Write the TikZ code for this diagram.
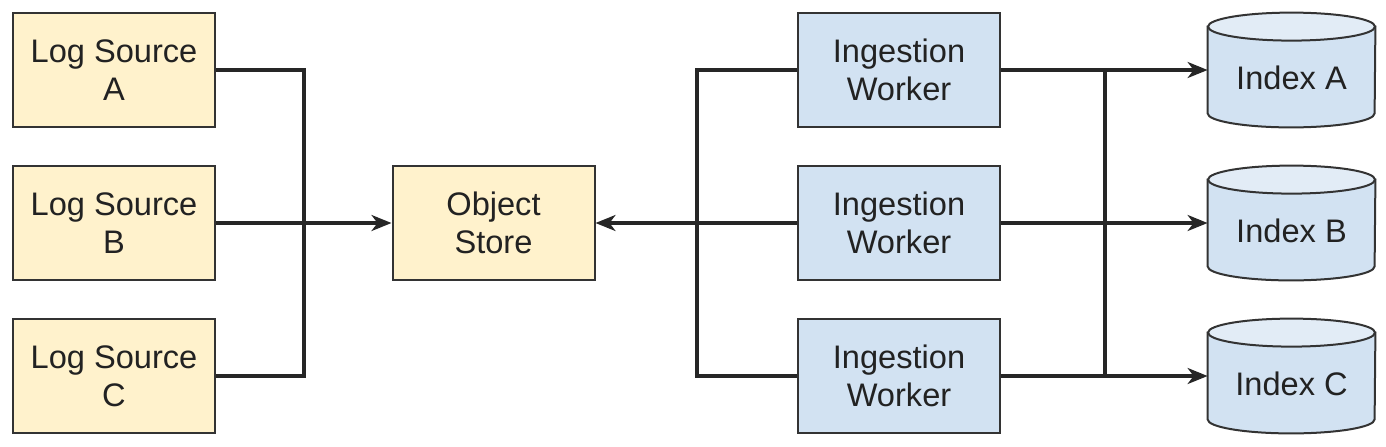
\documentclass[tikz,border=0pt]{standalone}
\usepackage{fontspec}
\setmainfont{Liberation Sans}
\usetikzlibrary{arrows.meta}
\definecolor{srcfill}{HTML}{FFF2CC}
\definecolor{wfill}{HTML}{D2E2F2}
\definecolor{topfill}{HTML}{E2ECF6}
\definecolor{edge}{HTML}{333333}
\definecolor{txt}{HTML}{222222}
\begin{document}
\begin{tikzpicture}[x=0.5pt,y=-0.5pt,
  box/.style={draw=edge, line width=1pt, minimum width=101pt, minimum height=57pt,
    inner sep=0pt, align=center, text=txt, font=\fontsize{16.3}{19}\selectfont},
  srcbox/.style={box, fill=srcfill},
  wbox/.style={box, fill=wfill},
  cylbox/.style={minimum width=83.5pt, minimum height=57pt, inner sep=0pt},
  conn/.style={draw=black!85, line width=1.6pt},
  arr/.style={conn, -{Stealth[length=10pt,width=8pt,inset=3pt]}},
  cylline/.style={draw=edge, line width=1pt}
]
\useasboundingbox (0,0) rectangle (1386,446);

% sources
\node[srcbox] (sA) at (114,70) {Log Source\\A};
\node[srcbox] (sB) at (114,223) {Log Source\\B};
\node[srcbox] (sC) at (114,376) {Log Source\\C};
\node[srcbox] (os) at (493.5,223) {Object\\Store};

% workers
\node[wbox] (wA) at (899,70) {Ingestion\\Worker};
\node[wbox] (wB) at (899,223) {Ingestion\\Worker};
\node[wbox] (wC) at (899,376) {Ingestion\\Worker};

% cylinders
\foreach \n/\y/\t in {iA/70/Index A, iB/223/Index B, iC/376/Index C}{
  \node[cylbox] (\n) at (1291.5,\y) {};
  \path[cylline, fill=wfill]
    ([yshift=-7pt]\n.north west) -- ([yshift=7pt]\n.south west)
    arc[start angle=180, end angle=0, x radius=83.5, y radius=14]
    -- ([yshift=-7pt]\n.north east) -- cycle;
  \path[cylline, fill=topfill]
    ([yshift=-7pt]\n.north) ellipse[x radius=83.5, y radius=14];
  \node[text=txt, font=\fontsize{16.3}{19}\selectfont] (\n t) at ([yshift=-4pt]\n.center) {\t};
}

% left bus
\coordinate (lb) at (304,223);
\draw[conn] (sA.east) -| (lb);
\draw[conn] (sC.east) -| (lb);
\draw[arr] (sB.east) -- (os.west);

% middle bus
\coordinate (mb) at (697,223);
\draw[conn] (wA.west) -| (mb);
\draw[conn] (wC.west) -| (mb);
\draw[arr] (wB.west) -- (os.east);

% right bus
\coordinate (rbA) at (1105,70);
\coordinate (rbB) at (1105,223);
\coordinate (rbC) at (1105,376);
\draw[conn] (rbA) -- (rbC);
\draw[arr] (wA.east) -- (iA.west);
\draw[arr] (wB.east) -- (iB.west);
\draw[arr] (wC.east) -- (iC.west);
\end{tikzpicture}
\end{document}
